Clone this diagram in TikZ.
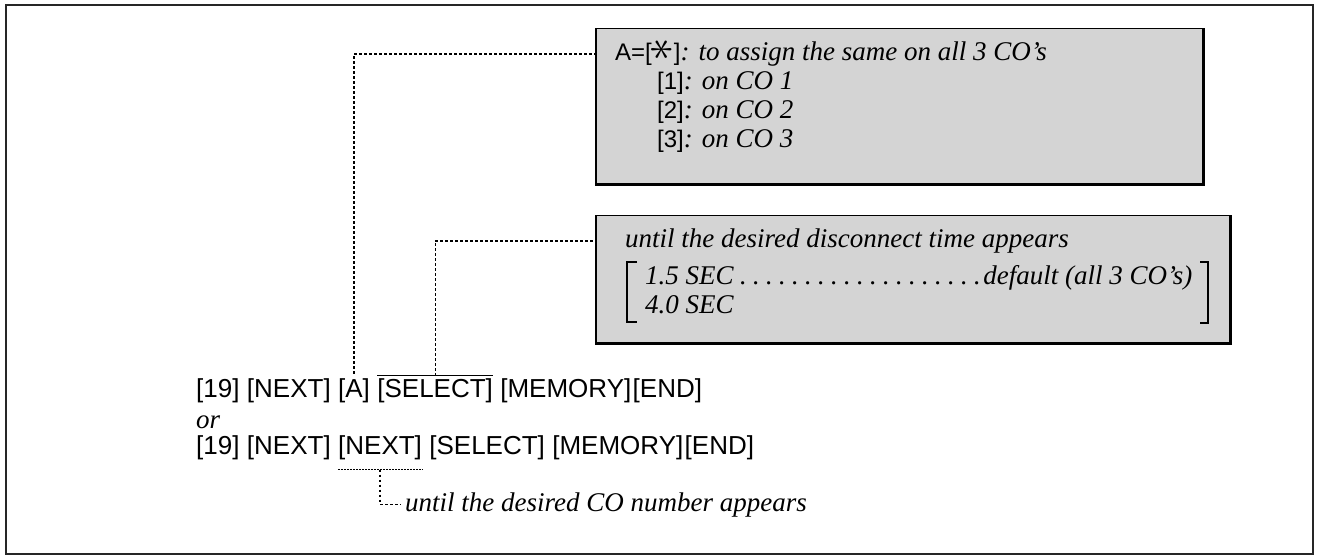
\documentclass[tikz,border=0pt]{standalone}
\usepackage{fontspec}
\setmainfont{Liberation Serif}
\setsansfont{Liberation Sans}
\newcommand\boxsf[1]{{\sffamily\fontsize{24}{28}\selectfont #1}}
\newcommand\starkey{\raisebox{0.02em}{\rotatebox[origin=c]{90}{\scalebox{1.9}{$\ast$}}}}
\begin{document}
\begin{tikzpicture}[x=1pt,y=-1pt,
  frame/.style={line width=2pt, black!85},
  panel/.style={draw, line width=1.5pt, fill=black!17, inner sep=0pt, anchor=north west},
  shadowedge/.style={line width=3pt},
  key/.style={font=\sffamily\fontsize{26}{30}\selectfont, inner sep=0pt, anchor=base west},
  txt/.style={font=\fontsize{27}{32}\selectfont, inner sep=0pt, anchor=base west},
  dots/.style={line width=1.2pt, dash pattern=on 2.5pt off 2.5pt},
  brk/.style={line width=1.5pt},
  keyline/.style={line width=1pt}
]
\useasboundingbox (0,0) rectangle (1318,556);
\draw[frame] (6,5) rectangle (1313,554);

% box 1
\node[panel, minimum width=607pt, minimum height=155pt] (box1) at (595,28) {};
\draw[shadowedge] (box1.south west) -- (box1.south east) -- (box1.north east);
\node[txt] (b1a) at (615,61) {\boxsf{A=[\starkey]}\textit{: to assign the same on all 3 CO’s}};
\node[txt] (b1b) at (657,90) {\boxsf{[1]}\textit{: on CO 1}};
\node[txt] (b1c) at (657,119) {\boxsf{[2]}\textit{: on CO 2}};
\node[txt] (b1d) at (657,148) {\boxsf{[3]}\textit{: on CO 3}};

% box 2
\node[panel, minimum width=634pt, minimum height=127pt] (box2) at (595,215) {};
\draw[shadowedge] (box2.south west) -- (box2.south east) -- (box2.north east);
\node[txt] (b2a) at (625,248) {\textit{until the desired disconnect time appears}};
\node[txt] (b2b) at (645,284) {\hbox to 547pt{\textit{1.5 SEC}\leaders\hbox to 13pt{\hss.\hss}\hfill\textit{default (all 3 CO’s)}}};
\node[txt] (b2c) at (645,313) {\textit{4.0 SEC}};
\draw[brk] (637,262) -- (627,262) -- (627,322) -- (637,322);
\draw[brk] (1200,262) -- (1208,262) -- (1208,323) -- (1200,323);

% line 1
\node[key] (k1) at (196,397) {[19]};
\node[key] (k2) at ([xshift=7pt]k1.base east) {[NEXT]};
\node[key] (k3) at ([xshift=7pt]k2.base east) {[A]};
\node[key] (k4) at ([xshift=7pt]k3.base east) {[SELECT]};
\node[key] (k5) at ([xshift=7pt]k4.base east) {[MEMORY]};
\node[key] (k6) at ([xshift=1pt]k5.base east) {[END]};
\draw[keyline] ([yshift=2pt]k4.north west) -- ([yshift=2pt]k4.north east);

\node[txt] (or) at (196,428) {\textit{or}};

% line 2
\node[key] (m1) at (196,454) {[19]};
\node[key] (m2) at ([xshift=7pt]m1.base east) {[NEXT]};
\node[key] (m3) at ([xshift=7pt]m2.base east) {[NEXT]};
\node[key] (m4) at ([xshift=7pt]m3.base east) {[SELECT]};
\node[key] (m5) at ([xshift=7pt]m4.base east) {[MEMORY]};
\node[key] (m6) at ([xshift=1pt]m5.base east) {[END]};
\draw[keyline, dash pattern=on 2pt off 1pt] ([yshift=-10pt]m3.south west) -- ([yshift=-10pt]m3.south east);

\node[txt] (note) at (405,511) {\textit{until the desired CO number appears}};

% connectors
\coordinate (c1) at ([yshift=-26pt]box1.north west);
\coordinate (c2) at ([yshift=-26pt]box2.north west);
\draw[dots] ([yshift=4pt]k3.north) |- (c1);
\draw[dots] ([yshift=2pt]k4.north) |- (c2);
\draw[dots] ([yshift=-10pt]m3.south) |- ([xshift=-4pt]note.west);
\end{tikzpicture}
\end{document}
